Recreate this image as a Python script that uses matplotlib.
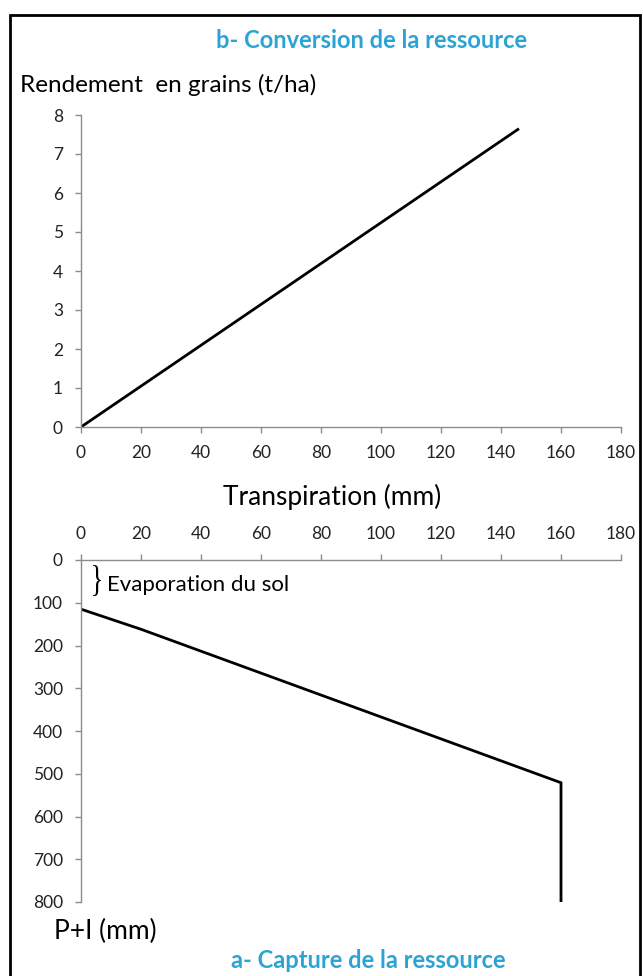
import matplotlib.pyplot as plt
from matplotlib.patches import Rectangle, PathPatch
from matplotlib.textpath import TextPath
from matplotlib.font_manager import FontProperties
from matplotlib.transforms import Affine2D, IdentityTransform

# b- conversion : rendement vs transpiration
transp_b = [0, 146]
rendement = [0, 7.65]

# a- capture : P+I vs transpiration
transp_a = [0, 20, 160, 160]
pi_mm = [115, 162, 521, 800]

x_ticks = list(range(0, 181, 20))
y_ticks_b = list(range(0, 9))
y_ticks_a = list(range(0, 801, 100))

W, H = 643, 976
blue = "#2ba3d5"
spine_col = "#8c8c8c"
txt_col = "#222222"

plt.rcParams['font.family'] = ['Lato', 'DejaVu Sans']

fig = plt.figure(figsize=(W / 100, H / 100), dpi=100)


def fx(px):
    return px / W


def fy(py):
    return 1 - py / H


def style_axes(ax):
    for s in ax.spines.values():
        s.set_color(spine_col)
        s.set_linewidth(1.0)
    ax.tick_params(colors=spine_col, labelcolor=txt_col, labelsize=12.5,
                   length=4, width=1.0, direction='out')


# top chart
ax1 = fig.add_axes([fx(81), fy(427), fx(540), (427 - 115) / H])
ax1.plot(transp_b, rendement, color="black", lw=2.0, solid_capstyle='butt')
ax1.set_xlim(0, 180)
ax1.set_ylim(0, 8)
ax1.set_xticks(x_ticks)
ax1.set_yticks(y_ticks_b)
ax1.spines['top'].set_visible(False)
ax1.spines['right'].set_visible(False)
style_axes(ax1)
ax1.tick_params(axis='x', pad=9)
ax1.tick_params(axis='y', pad=9)

# bottom chart
ax2 = fig.add_axes([fx(81), fy(902), fx(540), (902 - 560) / H])
ax2.plot(transp_a, pi_mm, color="black", lw=2.0, solid_joinstyle='miter')
ax2.set_xlim(0, 180)
ax2.set_ylim(800, 0)
ax2.set_xticks(x_ticks)
ax2.set_yticks(y_ticks_a)
ax2.xaxis.tick_top()
ax2.spines['bottom'].set_visible(False)
ax2.spines['right'].set_visible(False)
style_axes(ax2)
ax2.tick_params(axis='x', pad=9)
ax2.tick_params(axis='y', pad=9)

# texts
fig.text(fx(372), fy(41), "b- Conversion de la ressource", color=blue,
         fontsize=17, fontweight='bold', ha='center', va='center')
fig.text(fx(20), fy(85), "Rendement  en grains (t/ha)", color="black",
         fontsize=17.5, ha='left', va='center')
fig.text(fx(332), fy(497), "Transpiration (mm)", color="black",
         fontsize=19, ha='center', va='center')
fig.text(fx(54), fy(931), "P+I (mm)", color="black",
         fontsize=19, ha='left', va='center')
fig.text(fx(368), fy(961), "a- Capture de la ressource", color=blue,
         fontsize=17, fontweight='bold', ha='center', va='center')

# tall thin brace, stretched to the span of soil evaporation
brace = TextPath((0, 0), "}", size=40, prop=FontProperties(family='Liberation Serif'))
bb = brace.get_extents()
bw, bh = 8.0, 31.0
tr = (Affine2D().translate(-bb.x0, -bb.y0)
      .scale(bw / bb.width, bh / bb.height)
      .translate(93, H - 596))
fig.patches.append(PathPatch(tr.transform_path(brace), transform=IdentityTransform(),
                             facecolor="black", edgecolor="none"))
fig.text(fx(107), fy(585), "Evaporation du sol", color="black",
         fontsize=16, ha='left', va='center')

# outer frame
fig.patches.append(Rectangle((fx(10), fy(990)), fx(630), (990 - 15) / H,
                             transform=fig.transFigure, fill=False,
                             edgecolor="black", lw=2, clip_on=False))

fig.savefig("out.png", dpi=100)
